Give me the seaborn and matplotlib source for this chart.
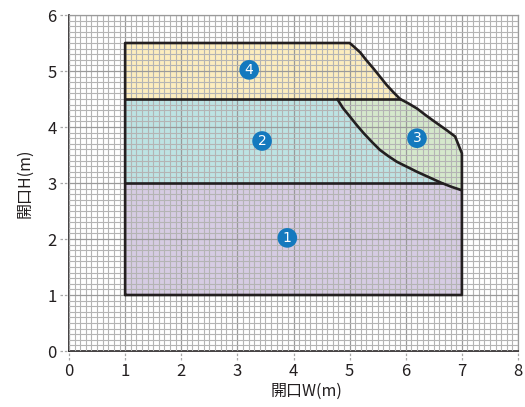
import numpy as np
import pandas as pd
import seaborn as sns
import matplotlib.pyplot as plt
from matplotlib.ticker import MultipleLocator

# ------------------------------------------------------------------
# data (opening width W / height H, m)
base_w = [1.0, 7.0]          # region 1 rectangle, width range
base_h = [1.0, 3.0]          # region 1 rectangle, height range
mid_h = 4.5                  # top of region 2
top_h = 5.5                  # top of region 4
chamfer_w = 7.0              # corner point on the right edge
chamfer_h = 3.53

# outer boundary curve (top left -> bottom right)
outer_w = [5.00, 5.07, 5.19, 5.30, 5.42, 5.54, 5.66, 5.78, 5.90,
           6.05, 6.20, 6.37, 6.55, 6.72, 6.88]
outer_h = [5.50, 5.44, 5.33, 5.19, 5.05, 4.90, 4.75, 4.62, 4.50,
           4.42, 4.33, 4.20, 4.07, 3.95, 3.83]

# inner curve between region 2 and region 3
inner_w = [4.78, 4.88, 5.01, 5.13, 5.25, 5.40, 5.54, 5.69, 5.84,
           6.02, 6.20, 6.42, 6.64, 6.82, 7.00]
inner_h = [4.50, 4.34, 4.18, 4.03, 3.89, 3.73, 3.59, 3.48, 3.38,
           3.29, 3.20, 3.10, 3.00, 2.93, 2.87]

# numbered markers
label_w = [3.89, 3.44, 6.20, 3.21]
label_h = [2.02, 3.75, 3.80, 5.02]
label_txt = ["1", "2", "3", "4"]

fill_colors = {"1": "#d6cce3", "2": "#bde3e3", "3": "#d5e8cc", "4": "#fcedbe"}

# ------------------------------------------------------------------
sns.set_style("white")
plt.rcParams['font.family'] = ['Noto Sans CJK JP', 'DejaVu Sans']

fig = plt.figure(figsize=(5.25, 4.07), dpi=100)
ax = fig.add_axes([69 / 525, 1 - 351 / 407, 449 / 525, 336 / 407])

# region polygons
i_mid = outer_h.index(mid_h)
i_low = inner_h.index(base_h[1])

poly1 = ([base_w[0], base_w[1], base_w[1], inner_w[i_low], base_w[0]],
         [base_h[0], base_h[0], inner_h[-1], inner_h[i_low], base_h[1]])
poly1 = ([base_w[0], base_w[1]] + inner_w[i_low:][::-1] + [base_w[0]],
         [base_h[0], base_h[0]] + inner_h[i_low:][::-1] + [base_h[1]])
poly2 = ([base_w[0], base_w[0]] + inner_w[:i_low + 1],
         [base_h[1], mid_h] + inner_h[:i_low + 1])
poly3 = (inner_w + [chamfer_w] + outer_w[i_mid:][::-1],
         inner_h + [chamfer_h] + outer_h[i_mid:][::-1])
poly4 = ([base_w[0], base_w[0]] + outer_w[:i_mid + 1],
         [mid_h, top_h] + outer_h[:i_mid + 1])

for key, (pw, ph) in zip(label_txt, [poly1, poly2, poly3, poly4]):
    ax.fill(pw, ph, color=fill_colors[key], lw=0, zorder=1)

# grid on top of the fills
ax.set_xlim(0, 8)
ax.set_ylim(0, 6)
ax.xaxis.set_major_locator(MultipleLocator(1))
ax.yaxis.set_major_locator(MultipleLocator(1))
ax.xaxis.set_minor_locator(MultipleLocator(0.1))
ax.yaxis.set_minor_locator(MultipleLocator(0.1))
ax.grid(which="minor", color="#b4b4b4", lw=0.8, zorder=2)
ax.grid(which="major", color="#9a9a9a", lw=0.9, zorder=2)
ax.set_axisbelow(False)

# black outlines
line_kw = dict(color="#231f20", lw=1.9, sort=False, estimator=None, ax=ax,
               legend=False, zorder=3)
outline = pd.DataFrame({
    "w": [base_w[0], base_w[1], chamfer_w] + outer_w[::-1] + [base_w[0], base_w[0]],
    "h": [base_h[0], base_h[0], chamfer_h] + outer_h[::-1] + [top_h, base_h[0]],
})
sns.lineplot(data=outline, x="w", y="h", **line_kw)
sns.lineplot(x=[base_w[0], inner_w[i_low]], y=[base_h[1], base_h[1]], **line_kw)
sns.lineplot(x=[base_w[0], outer_w[i_mid]], y=[mid_h, mid_h], **line_kw)
sns.lineplot(x=inner_w, y=inner_h, **line_kw)

# numbered circles
sns.scatterplot(x=label_w, y=label_h, s=200, color="#1479be", edgecolor="none",
                ax=ax, zorder=4, legend=False)
for w, h, t in zip(label_w, label_h, label_txt):
    ax.text(w, h, t, color="white", fontsize=10, ha="center", va="center",
            zorder=5, family="DejaVu Sans")

# spines
for side in ["left", "bottom"]:
    ax.spines[side].set_color("#231f20")
    ax.spines[side].set_linewidth(1.2)
for side in ["top", "right"]:
    ax.spines[side].set_color("#9a9a9a")
    ax.spines[side].set_linewidth(0.9)

# dashed tick marks
ax.tick_params(which="both", length=0)
ax.tick_params(axis="both", which="major", labelsize=12, labelcolor="#231f20", pad=9)
for v in range(0, 9):
    ax.plot([v, v], [-0.028, 0], transform=ax.get_xaxis_transform(), clip_on=False,
            color="#a8a8a8", lw=0.9, ls=(0, (2, 1.5)))
for v in range(0, 7):
    ax.plot([-0.02, 0], [v, v], transform=ax.get_yaxis_transform(), clip_on=False,
            color="#a8a8a8", lw=0.9, ls=(0, (2, 1.5)))

ax.set_xlabel("開口W(m)", fontsize=11.5, color="#231f20")
ax.set_ylabel("開口H(m)", fontsize=11.5, color="#231f20")
ax.xaxis.set_label_coords(0.53, -0.095)
ax.yaxis.set_label_coords(-0.08, 0.5)

fig.savefig("out.png", dpi=100)
